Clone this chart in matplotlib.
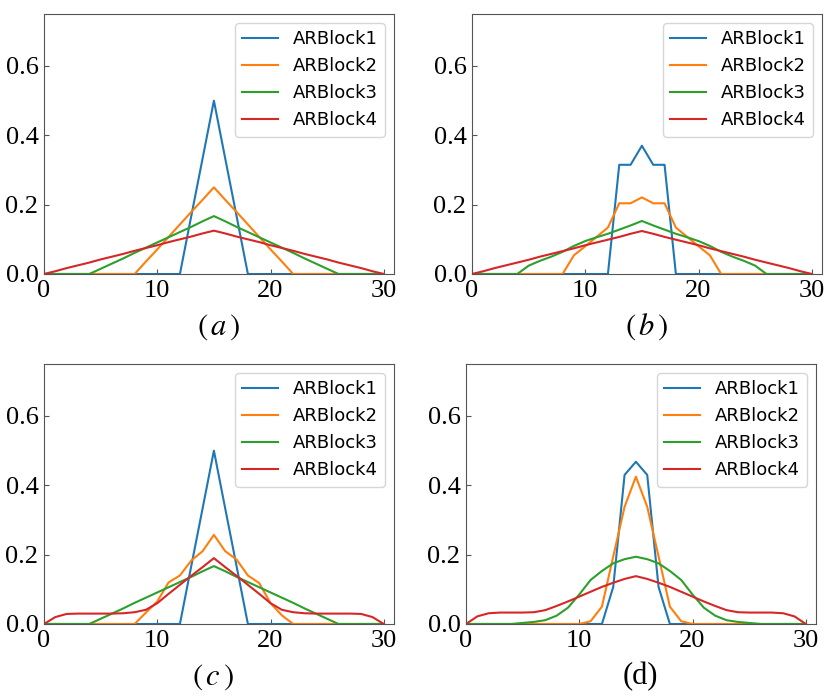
import matplotlib
matplotlib.use("Agg")
import matplotlib.pyplot as plt

plt.rcParams['mathtext.fontset'] = 'stix'

x = list(range(31))
names = ['ARBlock1', 'ARBlock2', 'ARBlock3', 'ARBlock4']
panel_labels = [r'$(\,a\,)$', r'$(\,b\,)$', r'$(\,c\,)$', '(d)']

# panel (a)
a1 = [0, 0, 0, 0, 0, 0, 0, 0, 0, 0, 0, 0, 0, 0.167, 0.333, 0.5, 0.333, 0.167,
      0, 0, 0, 0, 0, 0, 0, 0, 0, 0, 0, 0, 0]
a2 = [0, 0, 0, 0, 0, 0, 0, 0, 0, 0.036, 0.071, 0.107, 0.143, 0.179, 0.214, 0.25,
      0.214, 0.179, 0.143, 0.107, 0.071, 0.036, 0, 0, 0, 0, 0, 0, 0, 0, 0]
a3 = [0, 0, 0, 0, 0, 0.015, 0.030, 0.045, 0.061, 0.076, 0.091, 0.106, 0.121, 0.136, 0.152, 0.167,
      0.152, 0.136, 0.121, 0.106, 0.091, 0.076, 0.061, 0.045, 0.030, 0.015, 0, 0, 0, 0, 0]
a4 = [0, 0.008, 0.017, 0.025, 0.033, 0.042, 0.05, 0.058, 0.067, 0.075, 0.083, 0.092, 0.1, 0.108, 0.117, 0.125,
      0.117, 0.108, 0.1, 0.092, 0.083, 0.075, 0.067, 0.058, 0.05, 0.042, 0.033, 0.025, 0.017, 0.008, 0]

# panel (b)
b1 = [0, 0, 0, 0, 0, 0, 0, 0, 0, 0, 0, 0, 0, 0.315, 0.315, 0.37, 0.315, 0.315,
      0, 0, 0, 0, 0, 0, 0, 0, 0, 0, 0, 0, 0]
b2 = [0, 0, 0, 0, 0, 0, 0, 0, 0, 0.054, 0.08, 0.107, 0.134, 0.204, 0.204, 0.221,
      0.204, 0.204, 0.134, 0.107, 0.08, 0.054, 0, 0, 0, 0, 0, 0, 0, 0, 0]
b3 = [0, 0, 0, 0, 0, 0.024, 0.038, 0.05, 0.064, 0.081, 0.095, 0.106, 0.116, 0.128, 0.14, 0.153,
      0.14, 0.128, 0.116, 0.106, 0.095, 0.081, 0.064, 0.05, 0.038, 0.024, 0, 0, 0, 0, 0]
b4 = [0, 0.008, 0.017, 0.025, 0.033, 0.041, 0.05, 0.058, 0.066, 0.074, 0.083, 0.091, 0.099, 0.107, 0.116, 0.124,
      0.116, 0.107, 0.099, 0.091, 0.083, 0.074, 0.066, 0.058, 0.05, 0.041, 0.033, 0.025, 0.017, 0.008, 0]

# panel (c)
c1 = [0, 0, 0, 0, 0, 0, 0, 0, 0, 0, 0, 0, 0, 0.167, 0.333, 0.5, 0.333, 0.167,
      0, 0, 0, 0, 0, 0, 0, 0, 0, 0, 0, 0, 0]
c2 = [0, 0, 0, 0, 0, 0, 0, 0, 0, 0.033, 0.065, 0.12, 0.14, 0.183, 0.21, 0.257,
      0.21, 0.186, 0.14, 0.118, 0.06, 0.025, 0, 0, 0, 0, 0, 0, 0, 0, 0]
c3 = [0, 0, 0, 0, 0, 0.015, 0.030, 0.045, 0.061, 0.076, 0.091, 0.106, 0.121, 0.136, 0.152, 0.167,
      0.152, 0.136, 0.121, 0.106, 0.091, 0.076, 0.061, 0.045, 0.030, 0.015, 0, 0, 0, 0, 0]
c4 = [0, 0.02, 0.029, 0.03, 0.03, 0.03, 0.03, 0.031, 0.034, 0.041, 0.06, 0.087, 0.113, 0.139, 0.164, 0.19,
      0.164, 0.139, 0.113, 0.087, 0.06, 0.041, 0.034, 0.031, 0.03, 0.03, 0.03, 0.03, 0.029, 0.02, 0]

# panel (d)
d1 = [0, 0, 0, 0, 0, 0, 0, 0, 0, 0, 0, 0, 0, 0.107, 0.43, 0.468, 0.43, 0.107,
      0, 0, 0, 0, 0, 0, 0, 0, 0, 0, 0, 0, 0]
d2 = [0, 0, 0, 0, 0, 0, 0, 0, 0, 0, 0, 0.008, 0.05, 0.195, 0.338, 0.425,
      0.338, 0.195, 0.05, 0.008, 0, 0, 0, 0, 0, 0, 0, 0, 0, 0, 0]
d3 = [0, 0, 0, 0, 0, 0.003, 0.006, 0.011, 0.024, 0.047, 0.085, 0.127, 0.153, 0.175, 0.187, 0.194,
      0.187, 0.175, 0.153, 0.127, 0.085, 0.047, 0.024, 0.011, 0.006, 0.003, 0, 0, 0, 0, 0]
d4 = [0, 0.022, 0.031, 0.033, 0.033, 0.033, 0.034, 0.04, 0.052, 0.065, 0.079, 0.093, 0.107, 0.119, 0.13, 0.138,
      0.13, 0.119, 0.107, 0.093, 0.079, 0.065, 0.052, 0.04, 0.034, 0.033, 0.033, 0.033, 0.031, 0.022, 0]

panels = [[a1, a2, a3, a4], [b1, b2, b3, b4], [c1, c2, c3, c4], [d1, d2, d3, d4]]

W, H = 831, 698
# axes boxes in pixels: left, top, right, bottom
boxes = [(44, 14, 394, 274), (472, 14, 822, 274), (44, 364, 394, 624), (466, 364, 816, 624)]
label_pos = [(219, 327), (647, 327), (213, 677), (640, 677)]

fig = plt.figure(figsize=(W / 100, H / 100), dpi=100)

for i, series in enumerate(panels):
    l, t, r, b = boxes[i]
    ax = fig.add_axes([l / W, (H - b) / H, (r - l) / W, (b - t) / H])
    for name, y in zip(names, series):
        ax.plot(x, y, label=name, linewidth=1.5)
    ax.set_xlim(0, 30.9)
    ax.set_ylim(0, 0.75)
    ax.set_xticks([0, 10, 20, 30])
    ax.set_yticks([0.0, 0.2, 0.4, 0.6])
    ax.set_yticklabels(['0.0', '0.2', '0.4', '0.6'])
    ax.tick_params(direction='in', labelsize=19, pad=4, color='#555555')
    for lab in ax.get_xticklabels() + ax.get_yticklabels():
        lab.set_fontfamily('Liberation Serif')
    for sp in ax.spines.values():
        sp.set_color('#555555')
    ax.legend(loc='upper right', fontsize=13, handlelength=2.0)
    lx, ly = label_pos[i]
    fig.text(lx / W, 1 - ly / H, panel_labels[i], ha='center', va='center',
             fontsize=22, family='Liberation Serif')

fig.savefig('out.png', dpi=100)
